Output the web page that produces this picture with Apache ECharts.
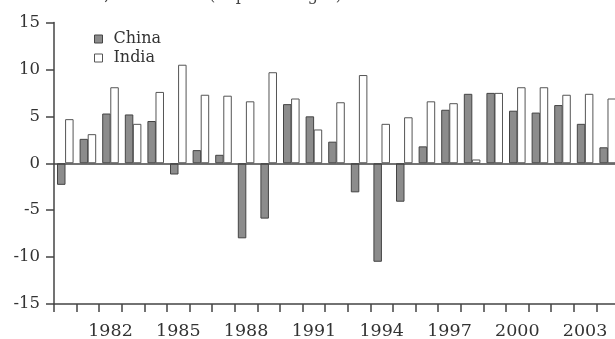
<!DOCTYPE html>
<html>
<head>
<meta charset="utf-8">
<script src="https://cdn.jsdelivr.net/npm/echarts@6/dist/echarts.min.js"></script>
<style>
html,body{margin:0;padding:0;background:#fff;}
#chart{width:615px;height:339px;}
</style>
</head>
<body>
<div id="chart"></div>
<script>
var years = ['1980','1981','1982','1983','1984','1985','1986','1987','1988','1989','1990','1991','1992','1993','1994','1995','1996','1997','1998','1999','2000','2001','2002','2003','2004'];
var china = [-2.3, 2.6, 5.3, 5.2, 4.5, -1.2, 1.4, 0.9, -8.0, -5.9, 6.3, 5.0, 2.3, -3.1, -10.5, -4.1, 1.8, 5.7, 7.4, 7.5, 5.6, 5.4, 6.2, 4.2, 1.7];
var india = [4.7, 3.1, 8.1, 4.2, 7.6, 10.5, 7.3, 7.2, 6.6, 9.7, 6.9, 3.6, 6.5, 9.4, 4.2, 4.9, 6.6, 6.4, 0.4, 7.5, 8.1, 8.1, 7.3, 7.4, 6.9];
var yTicks = [-15, -10, -5, 0, 5, 10, 15];
var titleText = 'and India, 1980\u20132004 (in percentages)';

var serif = '"DejaVu Serif", "Liberation Serif", serif';
var chart = echarts.init(document.getElementById('chart'));
chart.setOption({
  animation: false,
  backgroundColor: '#fff',
  graphic: [{
    type: 'text', x: 342, y: 4,
    style: { text: titleText, font: '16px ' + serif, fill: '#444', align: 'right', verticalAlign: 'bottom' }
  }],
  legend: {
    orient: 'vertical', left: 89, top: 26,
    itemWidth: 8, itemHeight: 8, itemGap: 3,
    textStyle: { fontFamily: serif, fontSize: 16, color: '#333', lineHeight: 16, padding: [0,0,0,6] },
    data: [
      { name: 'China', icon: 'rect', itemStyle: { color: '#8c8c8c', borderColor: '#444', borderWidth: 1 } },
      { name: 'India', icon: 'rect', itemStyle: { color: '#fff', borderColor: '#555', borderWidth: 1 } }
    ]
  },
  grid: { left: 54, right: -4, top: 22.5, bottom: 35, containLabel: false, outerBoundsMode: 'none' },
  xAxis: {
    type: 'category', data: years, boundaryGap: true,
    axisLine: { show: true, onZero: false, lineStyle: { color: '#444', width: 1.5 } },
    axisTick: { show: true, interval: 0, alignWithLabel: false, inside: false, length: 8, lineStyle: { color: '#444', width: 1.5 } },
    axisLabel: {
      interval: function (i) { return (i - 2) % 3 === 0; },
      fontFamily: serif, fontSize: 17.5, color: '#333', margin: 18
    }
  },
  yAxis: {
    type: 'value', min: -15, max: 15, interval: 5,
    splitLine: { show: false },
    axisLine: { show: true, lineStyle: { color: '#444', width: 1.5 } },
    axisTick: { show: true, inside: false, length: 8, lineStyle: { color: '#444', width: 1.5 } },
    axisLabel: {
      fontFamily: serif, fontSize: 16.5, color: '#333', margin: 14,
      formatter: function (v) { return yTicks.indexOf(v) >= 0 ? String(v) : ''; }
    }
  },
  series: [
    {
      name: 'China', type: 'bar', data: china, barWidth: 8.5, barGap: '-5%',
      itemStyle: { color: '#8c8c8c', borderColor: '#444', borderWidth: 1 },
      markLine: {
        silent: true, symbol: 'none', label: { show: false },
        lineStyle: { color: '#444', width: 1.5, type: 'solid' },
        data: [{ yAxis: 0 }]
      }
    },
    {
      name: 'India', type: 'bar', data: india, barWidth: 8.5,
      itemStyle: { color: '#ffffff', borderColor: '#555', borderWidth: 1 }
    }
  ]
});
</script>
</body>
</html>
